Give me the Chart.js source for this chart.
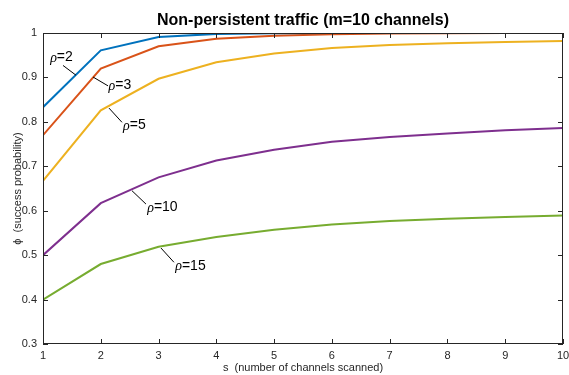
<!DOCTYPE html>
<html>
<head>
<meta charset="utf-8">
<script src="https://cdn.jsdelivr.net/npm/chart.js@4.4.1/dist/chart.umd.min.js"></script>
<style>
  html, body { margin: 0; padding: 0; background: #fff; }
  #wrap { width: 569px; height: 375px; }
</style>
</head>
<body>
<div id="wrap"><canvas id="chart"></canvas></div>
<script>
// s = number of channels scanned
var channels = [1, 2, 3, 4, 5, 6, 7, 8, 9, 10];

// success probability per rho
var rho2  = [0.833, 0.961, 0.991, 0.998, 0.9995, 1.0, 1.0, 1.0, 1.0, 1.0];
var rho3  = [0.770, 0.920, 0.970, 0.987, 0.994, 0.997, 0.999, 0.9995, 1.0, 1.0];
var rho5  = [0.667, 0.826, 0.897, 0.934, 0.954, 0.966, 0.973, 0.977, 0.980, 0.982];
var rho10 = [0.500, 0.617, 0.675, 0.713, 0.737, 0.755, 0.766, 0.774, 0.781, 0.786];
var rho15 = [0.400, 0.480, 0.519, 0.541, 0.557, 0.569, 0.577, 0.582, 0.586, 0.589];

var seriesNames = ['2', '3', '5', '10', '15'];
var yTicks = [0.3, 0.4, 0.5, 0.6, 0.7, 0.8, 0.9, 1];

// label text centre (x, y) and leader line ends, in data units
var labelText = ['2', '3', '5', '10', '15'];
var labelAt   = [[1.32, 0.946], [2.332, 0.883], [2.583, 0.792], [3.067, 0.608], [3.552, 0.476]];
var lineFrom  = [[1.346, 0.927], [2.125, 0.881], [2.367, 0.799], [2.782, 0.615], [3.266, 0.484]];
var lineTo    = [[1.571, 0.905], [1.865, 0.901], [2.142, 0.831], [2.54, 0.645], [3.042, 0.516]];

var colors = ['#0072BD', '#D95319', '#EDB120', '#7E2F8E', '#77AC30'];
var allSeries = [rho2, rho3, rho5, rho10, rho15];

function toPoints(arr) {
  return arr.map(function (v, i) { return { x: channels[i], y: v }; });
}

var datasets = allSeries.map(function (arr, i) {
  return {
    label: 'rho=' + seriesNames[i],
    data: toPoints(arr),
    borderColor: colors[i],
    backgroundColor: colors[i],
    borderWidth: 2,
    pointRadius: 0,
    tension: 0,
    fill: false
  };
});

var axisColor = '#262626';

// frame, inward ticks, title and rho labels
var decorPlugin = {
  id: 'decor',
  afterDraw: function (chart) {
    var ctx = chart.ctx;
    var xs = chart.scales.x, ys = chart.scales.y;
    var a = chart.chartArea;
    ctx.save();
    ctx.strokeStyle = axisColor;
    ctx.lineWidth = 1;
    ctx.strokeRect(a.left + 0.5, a.top + 0.5, a.right - a.left - 1, a.bottom - a.top - 1);
    ctx.beginPath();
    channels.forEach(function (c) {
      var px = Math.round(xs.getPixelForValue(c)) + 0.5;
      ctx.moveTo(px, a.bottom); ctx.lineTo(px, a.bottom - 5);
      ctx.moveTo(px, a.top); ctx.lineTo(px, a.top + 5);
    });
    yTicks.forEach(function (t) {
      var py = Math.round(ys.getPixelForValue(t)) + 0.5;
      ctx.moveTo(a.left, py); ctx.lineTo(a.left + 5, py);
      ctx.moveTo(a.right, py); ctx.lineTo(a.right - 5, py);
    });
    ctx.stroke();

    // title
    ctx.fillStyle = '#000';
    ctx.font = 'bold 16px "Liberation Sans", Arial, sans-serif';
    ctx.textAlign = 'center';
    ctx.textBaseline = 'middle';
    ctx.fillText('Non-persistent traffic (m=10 channels)', (a.left + a.right) / 2, 21);

    // rho labels with leader lines
    ctx.strokeStyle = '#000';
    ctx.lineWidth = 1;
    labelText.forEach(function (txt, i) {
      ctx.beginPath();
      ctx.moveTo(xs.getPixelForValue(lineFrom[i][0]), ys.getPixelForValue(lineFrom[i][1]));
      ctx.lineTo(xs.getPixelForValue(lineTo[i][0]), ys.getPixelForValue(lineTo[i][1]));
      ctx.stroke();

      var px = xs.getPixelForValue(labelAt[i][0]);
      var py = ys.getPixelForValue(labelAt[i][1]);
      ctx.font = 'italic 14px "Liberation Serif", serif';
      var w1 = ctx.measureText('\u03C1').width;
      ctx.font = '14px "Liberation Sans", Arial, sans-serif';
      var w2 = ctx.measureText('=' + txt).width;
      var x0 = px - (w1 + w2) / 2;
      ctx.textAlign = 'left';
      ctx.font = 'italic 14px "Liberation Serif", serif';
      ctx.fillText('\u03C1', x0, py + 1);
      ctx.font = '14px "Liberation Sans", Arial, sans-serif';
      ctx.fillText('=' + txt, x0 + w1, py);
    });
    ctx.restore();
  }
};

var ctx = document.getElementById('chart').getContext('2d');
var chart = new Chart(ctx, {
  type: 'line',
  data: { datasets: datasets },
  options: {
    responsive: true,
    maintainAspectRatio: false,
    animation: false,
    layout: { padding: { top: 33, right: 0, left: 0, bottom: 0 } },
    plugins: {
      legend: { display: false },
      tooltip: { enabled: false }
    },
    scales: {
      x: {
        type: 'linear',
        min: 1,
        max: 10,
        grid: { display: false, drawTicks: false, tickLength: 0 },
        border: { display: false },
        ticks: {
          stepSize: 1,
          color: axisColor,
          font: { family: '"Liberation Sans", Arial, sans-serif', size: 11 },
          padding: 5,
          maxRotation: 0
        },
        title: {
          display: true,
          text: 's  (number of channels scanned)',
          color: axisColor,
          font: { family: '"Liberation Sans", Arial, sans-serif', size: 11 },
          padding: { top: 0, bottom: 0 }
        },
        afterFit: function (s) {
          s.height = 31;
          s.paddingRight = 6;
          s.paddingLeft = 0;
        }
      },
      y: {
        min: 0.3,
        max: 1,
        grid: { display: false, drawTicks: false, tickLength: 0 },
        border: { display: false },
        ticks: {
          stepSize: 0.1,
          color: axisColor,
          font: { family: '"Liberation Sans", Arial, sans-serif', size: 11 },
          padding: 6,
          callback: function (v) { return Math.abs(v - 1) < 1e-9 ? '1' : v.toFixed(1); }
        },
        title: {
          display: true,
          text: '\u03D5  (success probability)',
          color: axisColor,
          font: { family: '"Liberation Sans", Arial, sans-serif', size: 11 },
          padding: { top: 11, bottom: 0 }
        },
        afterFit: function (s) { s.width = 43; }
      }
    }
  },
  plugins: [decorPlugin]
});
</script>
</body>
</html>
